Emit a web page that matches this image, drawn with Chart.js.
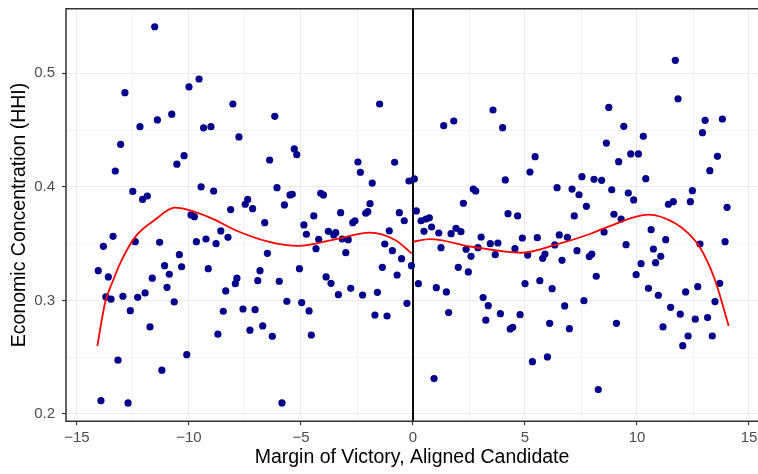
<!DOCTYPE html>
<html><head><meta charset="utf-8">
<script src="https://cdn.jsdelivr.net/npm/chart.js@4.4.0/dist/chart.umd.min.js"></script>
<style>html,body{margin:0;padding:0;overflow:hidden;background:#fff;width:758px;height:474px}canvas{display:block}</style>
</head><body>
<canvas id="c" width="758" height="474" style="width:758px;height:474px"></canvas>
<script>
// Observations: margin of victory (x) and HHI (y)
const marginX = [
-11.53,-12.86,-9.55,-10.00,-8.04,-10.77,-11.41,-12.19,-9.35,-9.02,-7.77,-13.05,-13.29,-10.22,-10.54,-12.51,-12.07,-11.86,-9.46,-8.90,
-8.14,-9.91,-9.76,-13.39,-13.82,-12.40,-11.31,-9.67,-9.24,-8.79,-8.58,-8.26,-10.43,-11.09,-10.33,-14.05,-13.60,-10.88,-11.64,-9.14,
-7.86,-7.93,-10.98,-8.36,-13.71,-13.48,-12.95,-12.29,-11.96,-10.66,-12.62,-8.47,-11.74,-8.71,-10.10,-13.17,-11.21,-13.93,-12.72,
-6.17,-1.49,-5.30,-5.19,-6.40,-2.46,-2.35,-0.82,-1.82,-0.18,0.06,-6.07,-5.49,-5.39,-4.12,-4.00,-7.38,-7.49,-7.16,-5.74,
-1.92,-4.43,-3.23,-2.11,-2.02,-0.61,0.15,-6.62,-4.87,-4.76,-3.78,-3.54,-3.45,-3.16,-2.89,-4.21,-2.69,-2.59,-1.06,-0.39,
0.36,-4.33,-3.00,-1.26,-0.92,-0.51,-0.07,0.24,-6.50,-5.07,-6.83,-6.93,-5.97,-3.88,-3.66,-2.78,-3.33,-2.25,-1.59,-1.37,
-0.71,-0.27,-1.70,-1.16,-5.63,-4.97,-4.64,-7.59,-7.05,-7.28,-6.71,-6.28,-4.54,-5.85,
1.37,1.82,3.57,4.00,5.45,5.22,4.12,7.54,6.43,7.10,7.41,7.74,2.69,2.80,2.25,4.24,4.67,7.20,0.58,0.73,
0.83,0.49,1.15,1.70,1.92,2.14,1.25,3.04,2.90,2.37,2.59,3.45,3.79,3.67,4.55,4.88,5.55,5.12,5.79,5.89,
6.33,6.53,6.89,6.65,7.32,7.87,7.98,1.04,1.49,1.59,2.02,2.47,3.13,3.36,3.25,3.90,4.34,4.45,4.78,5.00,
5.66,6.21,6.77,6.10,6.98,7.63,5.33,6.00,0.94,
11.71,11.83,8.74,9.41,8.63,10.28,13.04,13.81,12.92,9.72,10.06,9.18,13.59,13.25,8.08,8.42,10.39,8.87,9.61,9.85,
12.47,12.38,11.40,11.62,14.02,8.97,9.29,10.63,8.53,11.28,9.51,12.81,13.93,10.73,11.06,10.18,10.83,9.96,8.18,10.51,
10.95,12.17,12.71,13.69,13.48,11.50,11.93,12.60,13.15,9.08,11.16,12.28,13.36,12.04,8.27
];
const hhiY = [
0.541,0.483,0.495,0.488,0.473,0.464,0.459,0.453,0.452,0.453,0.444,0.4375,0.414,0.4275,0.420,0.396,0.389,0.392,0.400,0.3964,
0.380,0.3753,0.3738,0.3565,0.3477,0.3518,0.3512,0.3518,0.3541,0.350,0.3612,0.3556,0.3403,0.3306,0.3297,0.3262,0.3207,0.3231,0.3196,0.328,
0.3196,0.3148,0.3116,0.3084,0.3031,0.3011,0.3037,0.3028,0.3066,0.2987,0.291,0.2905,0.2767,0.2703,0.2523,0.2474,0.2386,0.2118,0.2098,
0.4621,0.473,0.4334,0.4284,0.4237,0.4219,0.4129,0.4217,0.4034,0.4052,0.407,0.3993,0.3929,0.3935,0.3944,0.3929,0.389,0.3847,0.3808,0.3841,
0.3852,0.3744,0.3773,0.3768,0.3782,0.3773,0.3788,0.3685,0.3665,0.3583,0.3609,0.3577,0.3597,0.3541,0.3535,0.3539,0.3685,0.3702,0.3614,0.3702,
0.3702,0.3456,0.3421,0.3497,0.3438,0.3368,0.3306,0.3148,0.3415,0.328,0.3262,0.3174,0.3169,0.3207,0.3151,0.3107,0.3051,0.3048,0.3072,0.3292,
0.3224,0.2975,0.2872,0.2863,0.2993,0.2981,0.2908,0.2925,0.2919,0.2738,0.2776,0.2685,0.2696,0.2098,
0.4539,0.458,0.4677,0.4521,0.4266,0.4131,0.4061,0.409,0.3993,0.3981,0.3931,0.3829,0.3981,0.3964,0.3856,0.3764,0.3744,0.3744,0.3717,0.3728,
0.3647,0.3609,0.3594,0.3588,0.3635,0.3606,0.3465,0.3559,0.3465,0.3451,0.3389,0.350,0.3506,0.3403,0.3456,0.355,0.3553,0.340,0.3371,0.3409,
0.3489,0.3577,0.3556,0.3353,0.3438,0.3386,0.3409,0.3113,0.3075,0.2893,0.3292,0.3251,0.3025,0.2954,0.2826,0.2884,0.2749,0.2764,0.2875,0.3148,
0.3174,0.3104,0.2952,0.2799,0.2752,0.2998,0.2461,0.2503,0.2312,
0.5114,0.4776,0.470,0.4533,0.4386,0.4445,0.4586,0.4598,0.4477,0.429,0.429,0.4222,0.4269,0.4143,0.4067,0.4058,0.4072,0.3975,0.3946,0.3885,
0.3967,0.387,0.3847,0.387,0.382,0.3759,0.3717,0.3623,0.3603,0.3535,0.3491,0.3497,0.3518,0.3453,0.3389,0.3324,0.3333,0.3227,0.3213,0.3107,
0.3046,0.3075,0.3121,0.3151,0.299,0.294,0.2879,0.2835,0.2849,0.2799,0.2767,0.2687,0.2687,0.2602,0.2215
];
// Fitted curves
const fitLeftX  = [-14.09,-13.75,-13.38,-13.0,-12.4,-11.52,-10.63,-10.03,-8.84,-7.95,-6.46,-5.12,-3.48,-1.92,-0.80,-0.06];
const fitLeftY  = [0.260,0.2975,0.318,0.3357,0.356,0.371,0.3817,0.3797,0.371,0.362,0.3518,0.348,0.3538,0.3597,0.3532,0.3415];
const fitRightX = [0.02,0.76,2.62,4.85,6.34,7.9,8.72,10.51,11.7,12.29,12.8,13.48,14.09];
const fitRightY = [0.3518,0.354,0.3473,0.342,0.3489,0.3585,0.365,0.3755,0.368,0.359,0.347,0.318,0.2776];
// Ticks
const xMajorTicks = [-15,-10,-5,0,5,10,15];
const xTickLabels = ['\u221215','\u221210','\u22125','0','5','10','15'];
const xMinorTicks = [-12.5,-7.5,-2.5,2.5,7.5,12.5];
const yMajorTicks = [0.2,0.3,0.4,0.5];
const yTickLabels = ['0.2','0.3','0.4','0.5'];
const yMinorTicks = [0.25,0.35,0.45];
const cutoffX = 0;
const xTitle = 'Margin of Victory, Aligned Candidate';
const yTitle = 'Economic Concentration (HHI)';

const near = (a,b)=>Math.abs(a-b)<1e-9;
function buildTicks(major, minor){
  return major.map(v=>({value:v, mj:true})).concat(minor.map(v=>({value:v, mj:false}))).sort((a,b)=>a.value-b.value);
}
function labelFor(v, major, labels){
  const i = major.findIndex(m=>near(m,v));
  return i>=0 ? labels[i] : '';
}
function zeroPad(s){ s.paddingLeft = 0; s.paddingRight = 0; s.paddingTop = 0; s.paddingBottom = 0; }
const gridCommon = {
  color: '#EBEBEB',
  lineWidth: c => (c.tick && c.tick.mj) ? 1.1 : 0.55,
  drawTicks: true,
  tickLength: 4,
  tickColor: c => (c.tick && c.tick.mj) ? '#333333' : 'rgba(0,0,0,0)',
  tickWidth: 1.1
};
const FONT = "'Liberation Sans', Arial, sans-serif";

const vlinePlugin = {
  id: 'vline',
  beforeDatasetsDraw(chart){
    const {ctx, chartArea, scales} = chart;
    const x = scales.x.getPixelForValue(cutoffX);
    ctx.save();
    ctx.strokeStyle = '#000000';
    ctx.lineWidth = 1.9;
    ctx.beginPath();
    ctx.moveTo(x, chartArea.top);
    ctx.lineTo(x, chartArea.bottom);
    ctx.stroke();
    ctx.restore();
  }
};
// panel border: left, top, bottom (right side falls outside the picture)
const borderPlugin = {
  id: 'panelBorder',
  afterDatasetsDraw(chart){
    const {ctx, chartArea} = chart;
    ctx.save();
    ctx.strokeStyle = '#333333';
    ctx.lineWidth = 1.5;
    ctx.beginPath();
    ctx.moveTo(chart.width + 5, chartArea.top);
    ctx.lineTo(chartArea.left, chartArea.top);
    ctx.lineTo(chartArea.left, chartArea.bottom);
    ctx.lineTo(chart.width + 5, chartArea.bottom);
    ctx.stroke();
    ctx.restore();
  }
};

new Chart(document.getElementById('c'), {
  data: {
    datasets: [
      { type:'line', order:0, data: fitLeftX.map((x,i)=>({x, y:fitLeftY[i]})), borderColor:'#FF0000', borderWidth:1.8,
        pointRadius:0, cubicInterpolationMode:'monotone', fill:false },
      { type:'line', order:0, data: fitRightX.map((x,i)=>({x, y:fitRightY[i]})), borderColor:'#FF0000', borderWidth:1.8,
        pointRadius:0, cubicInterpolationMode:'monotone', fill:false },
      { type:'scatter', order:1, data: marginX.map((x,i)=>({x, y:hhiY[i]})), backgroundColor:'#00008B', borderWidth:0,
        pointRadius:3.6, pointHoverRadius:3.6 }
    ]
  },
  options: {
    responsive:false, animation:false, devicePixelRatio:1,
    layout:{ autoPadding:false, padding:{ left:0, top:8.7, right:0, bottom:0 } },
    plugins:{ legend:{display:false}, tooltip:{enabled:false} },
    scales:{
      x:{
        type:'linear', min:-15.49, max:15.40,
        afterBuildTicks: s => { s.ticks = buildTicks(xMajorTicks, xMinorTicks); },
        afterFit: s => { s.height = 52.7; zeroPad(s); },
        grid: gridCommon,
        border:{ display:false },
        ticks:{ autoSkip:false, maxRotation:0, padding:4, color:'#4D4D4D', font:{family:FONT, size:15},
          callback: v => labelFor(v, xMajorTicks, xTickLabels) },
        title:{ display:true, text:xTitle, color:'#000000', font:{family:FONT, size:19.5}, padding:{top:0, bottom:4.3} }
      },
      y:{
        type:'linear', min:0.1936, max:0.5569,
        afterBuildTicks: s => { s.ticks = buildTicks(yMajorTicks, yMinorTicks); },
        afterFit: s => { s.width = 66; zeroPad(s); },
        grid: gridCommon,
        border:{ display:false },
        ticks:{ autoSkip:false, padding:7, color:'#4D4D4D', font:{family:FONT, size:15},
          callback: v => labelFor(v, yMajorTicks, yTickLabels) },
        title:{ display:true, text:yTitle, color:'#000000', font:{family:FONT, size:19.5}, padding:{top:8.3, bottom:8.3} }
      }
    }
  },
  plugins:[vlinePlugin, borderPlugin]
});
</script>
</body></html>
